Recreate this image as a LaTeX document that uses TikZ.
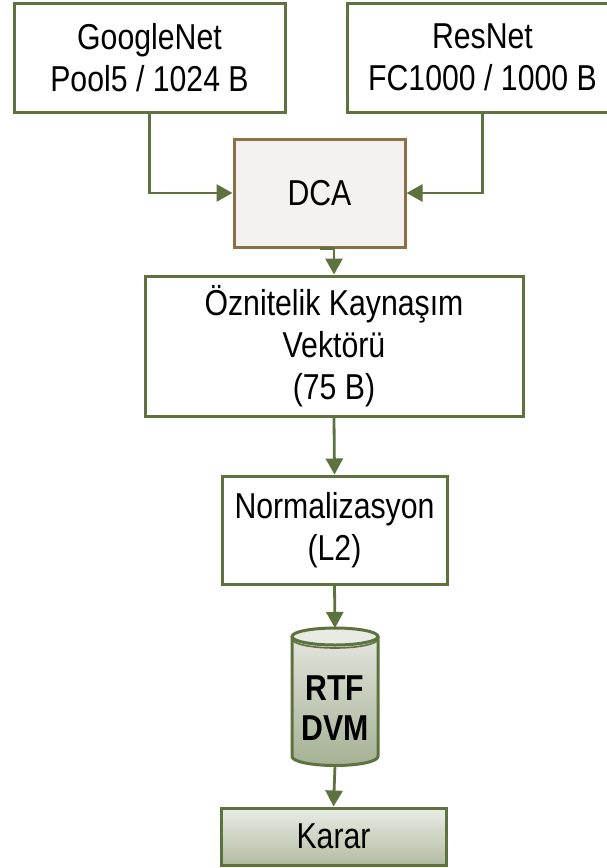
\documentclass[tikz,border=0pt]{standalone}
\usepackage{fontspec}
\setmainfont{Liberation Sans}[FakeStretch=0.84]
\usetikzlibrary{arrows.meta,calc}

\definecolor{linegreen}{RGB}{94,114,64}
\definecolor{dcabrown}{RGB}{139,113,68}
\definecolor{dcafill}{RGB}{243,242,240}
\definecolor{cyltop}{RGB}{226,229,222}
\definecolor{cylbottom}{RGB}{165,177,148}
\definecolor{capfill}{RGB}{232,234,228}
\definecolor{kartop}{RGB}{234,237,229}
\definecolor{karbottom}{RGB}{178,188,162}

\begin{document}
\begin{tikzpicture}[x=1pt,y=-1pt,
  txt/.style={font=\fontsize{36}{42}\selectfont},
  box/.style={draw=linegreen, line width=3pt, fill=white, align=center,
    inner sep=0pt, txt},
  conn/.style={draw=linegreen, line width=2.8pt,
    -{Triangle[length=16pt,width=17pt]}}]
\useasboundingbox (0,0) rectangle (606,868);

% feature extractors
\node[box, minimum width=271pt, minimum height=109pt] (goog) at (149.5,57.5)
  {GoogleNet\\Pool5 / 1024 B};
\node[box, minimum width=271pt, minimum height=109pt] (res) at (482.5,57.5)
  {ResNet\\FC1000 / 1000 B};

% fusion by discriminant correlation analysis
\node[box, draw=dcabrown, fill=dcafill, minimum width=171pt, minimum height=108pt]
  (dca) at (319.5,193) {DCA};

\node[box, minimum width=378pt, minimum height=140pt] (fuse) at (334,346)
  {Öznitelik Kaynaşım\\Vektörü\\(75 B)};

\node[box, minimum width=225pt, minimum height=108pt] (norm) at (334.5,530)
  {Normalizasyon\\(L2)};

% classifier drawn as a cylinder
\coordinate (cyltopc) at (335,636.5);
\shade[top color=cyltop, bottom color=cylbottom]
  (292,636.5) -- (292,756.5) arc[start angle=180, end angle=0, x radius=43, y radius=9]
  -- (378,636.5) -- cycle;
\draw[linegreen, line width=3pt, line join=round]
  (292,636.5) -- (292,756.5) arc[start angle=180, end angle=0, x radius=43, y radius=9]
  -- (378,636.5);
\draw[linegreen, line width=3pt, fill=capfill]
  (cyltopc) ellipse[x radius=43, y radius=8.5];
\draw[linegreen, line width=1.6pt]
  (292,639) arc[start angle=180, end angle=0, x radius=43, y radius=9];
\coordinate (cylin) at (335,628);
\coordinate (cylout) at (335,765.5);
\node[align=center, inner sep=0pt, font=\fontsize{36}{40}\selectfont\bfseries]
  (cyl) at (335,708) {RTF\\DVM};

\node[box, top color=kartop, bottom color=karbottom,
  minimum width=225pt, minimum height=57pt] (karar) at (333.5,836.5) {Karar};

% connectors
\draw[conn] (goog.south) |- (dca.west);
\draw[conn] (res.south) |- (dca.east);
\draw[conn] (dca.south) -| (fuse.north);
\draw[conn] (fuse.south) -- (norm.north);
\draw[conn] (norm.south) -- (cylin);
\draw[conn] (cylout) -- (karar.north);
\end{tikzpicture}
\end{document}
